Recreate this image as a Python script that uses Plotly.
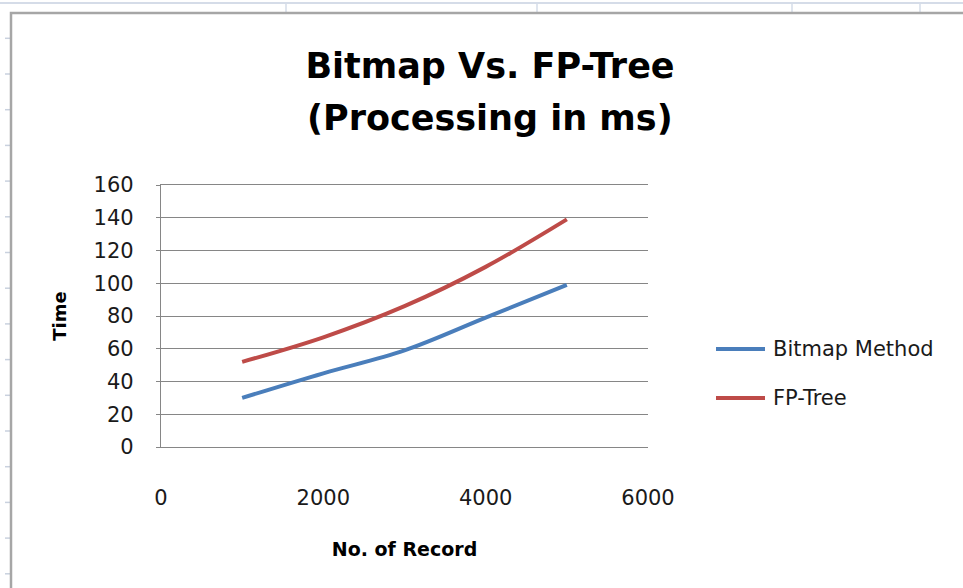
import plotly.graph_objects as go

# ---- data ----
records = [1000, 2000, 3000, 4000, 5000]
bitmap_ms = [30, 45, 59, 79, 99]
fptree_ms = [52, 67, 86, 110, 139]
series_names = ["Bitmap Method", "FP-Tree"]
series_colors = ["#4A7EBB", "#BE4B48"]
y_ticks = [0, 20, 40, 60, 80, 100, 120, 140, 160]
x_ticks = [0, 2000, 4000, 6000]
title_line1 = "Bitmap Vs. FP-Tree"
title_line2 = "(Processing in ms)"
x_title = "No. of Record"
y_title = "Time"

W, H = 963, 588
L, R, T, B = 161, 648, 185, 447  # plot area in pixels


def px(x):
    return (x - L) / (R - L)


def py(y):
    return (B - y) / (B - T)


FONT = "DejaVu Sans"
GRID = "#868686"
fig = go.Figure()
for name, vals, col in zip(series_names, [bitmap_ms, fptree_ms], series_colors):
    fig.add_trace(go.Scatter(x=records, y=vals, name=name, mode="lines",
                             line=dict(color=col, width=4, shape="spline"),
                             showlegend=False))

shapes = []
# spreadsheet background decorations
shapes.append(dict(type="line", xref="paper", yref="paper", x0=px(0), x1=px(W), y0=py(3), y1=py(3),
                   line=dict(color="#D5DCE8", width=2)))
for xv in [286, 537, 792, 920]:
    shapes.append(dict(type="line", xref="paper", yref="paper", x0=px(xv), x1=px(xv), y0=py(3), y1=py(12),
                       line=dict(color="#D5DCE8", width=1.5)))
for k in range(16):
    yv = 38.3 + k * 35.7
    shapes.append(dict(type="line", xref="paper", yref="paper", x0=px(5), x1=px(10), y0=py(yv), y1=py(yv),
                       line=dict(color="#C9D1DE", width=1.5)))
# chart area border
shapes.append(dict(type="path", xref="paper", yref="paper",
                   path=f"M {px(11)} {py(H + 5)} L {px(11)} {py(13)} L {px(W + 5)} {py(13)}",
                   line=dict(color="#A6A6A6", width=2.5)))

annotations = []
# second title line
annotations.append(dict(text="<b>" + title_line2 + "</b>", xref="paper", yref="paper", x=px(490), y=py(118),
                        xanchor="center", yanchor="middle", showarrow=False,
                        font=dict(family=FONT, size=35, color="black")))

# manual legend
for i, (name, col) in enumerate(zip(series_names, series_colors)):
    yv = 349 + i * 49
    shapes.append(dict(type="line", xref="paper", yref="paper", x0=px(716), x1=px(765), y0=py(yv), y1=py(yv),
                       line=dict(color=col, width=4)))
    annotations.append(dict(text=name, xref="paper", yref="paper", x=px(771), y=py(yv),
                            xanchor="left", yanchor="middle", showarrow=False,
                            font=dict(family=FONT, size=21, color="#1a1a1a")))

fig.update_layout(
    width=W, height=H,
    margin=dict(l=L, r=W - R, t=T, b=H - B),
    paper_bgcolor="white", plot_bgcolor="white",
    title=dict(text=title_line1, x=490 / W, xanchor="center", y=1 - 53 / H, yanchor="top",
               font=dict(family=FONT, size=35, color="black", weight="bold")),
    shapes=shapes, annotations=annotations,
    showlegend=False,
    xaxis=dict(range=[0, 6000], tickvals=x_ticks, showgrid=False, zeroline=False,
               showline=True, mirror=True, linecolor=GRID, linewidth=1.3,
               ticks="", ticklabelstandoff=32,
               tickfont=dict(family=FONT, size=21, color="#1a1a1a"),
               title=dict(text="<b>" + x_title + "</b>", standoff=33,
                          font=dict(family=FONT, size=19, color="black"))),
    yaxis=dict(range=[0, 160], tickvals=y_ticks, showgrid=True, gridcolor=GRID, gridwidth=1.3,
               zeroline=False, showline=True, linecolor=GRID, linewidth=1.3,
               ticks="outside", ticklen=4, tickcolor=GRID, ticklabelstandoff=18,
               tickfont=dict(family=FONT, size=21, color="#1a1a1a"),
               title=dict(text="<b>" + y_title + "</b>", standoff=22,
                          font=dict(family=FONT, size=18, color="black"))),
)

fig.write_html("out.html", config={"displayModeBar": False},
               post_script="document.body.style.margin='0';")
